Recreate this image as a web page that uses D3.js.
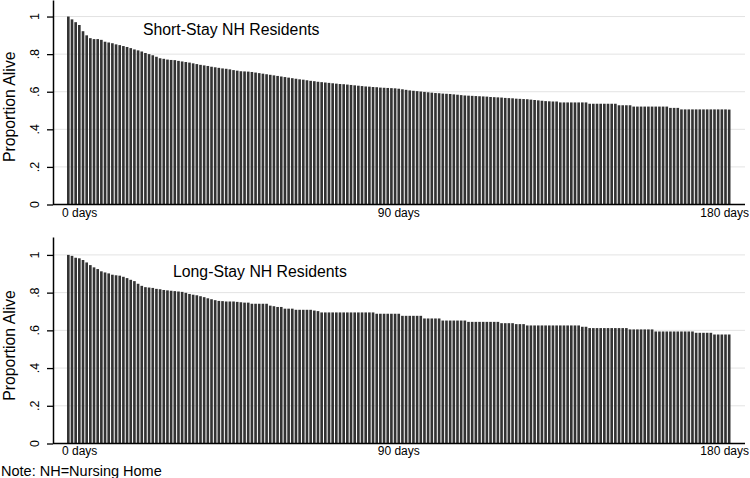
<!DOCTYPE html>
<html>
<head>
<meta charset="utf-8">
<script src="https://cdn.jsdelivr.net/npm/d3@7"></script>
<style>
  html, body { margin: 0; padding: 0; background: #fff; }
  text { font-family: "Liberation Sans", Arial, sans-serif; fill: #000; }
</style>
</head>
<body>
<svg id="chart" width="750" height="478"></svg>
<script>
// ---------- data ----------
const days = d3.range(0, 181);               // day 0 .. day 180
const xTickDays = [0, 90, 180];
const xTickLabels = ["0 days", "90 days", "180 days"];
const yTicks = [0, 0.2, 0.4, 0.6, 0.8, 1];
const yTickLabels = ["0", ".2", ".4", ".6", ".8", "1"];
const yTitle = "Proportion Alive";
const panelTitles = ["Short-Stay NH Residents", "Long-Stay NH Residents"];
const note = "Note: NH=Nursing Home";

const shortStay = [
  1.000,0.985,0.970,0.955,0.922,0.900,0.885,0.880,0.880,0.876,
  0.866,0.862,0.858,0.852,0.848,0.843,0.838,0.832,0.825,0.820,
  0.814,0.806,0.800,0.794,0.786,0.778,0.775,0.771,0.769,0.768,
  0.764,0.761,0.758,0.755,0.751,0.747,0.743,0.740,0.737,0.733,
  0.730,0.727,0.724,0.722,0.719,0.715,0.712,0.709,0.708,0.707,
  0.705,0.702,0.699,0.696,0.693,0.690,0.687,0.684,0.681,0.678,
  0.675,0.672,0.669,0.666,0.664,0.661,0.658,0.656,0.653,0.651,
  0.649,0.647,0.645,0.643,0.641,0.640,0.638,0.636,0.634,0.632,
  0.630,0.628,0.627,0.625,0.624,0.622,0.621,0.620,0.619,0.618,
  0.616,0.613,0.610,0.607,0.605,0.603,0.601,0.599,0.597,0.595,
  0.593,0.592,0.590,0.589,0.588,0.586,0.584,0.582,0.580,0.579,
  0.578,0.577,0.576,0.575,0.574,0.572,0.571,0.570,0.569,0.567,
  0.566,0.565,0.563,0.562,0.561,0.560,0.558,0.556,0.554,0.552,
  0.550,0.549,0.548,0.548,0.543,0.543,0.543,0.543,0.543,0.543,
  0.543,0.543,0.536,0.536,0.536,0.536,0.536,0.536,0.536,0.536,
  0.528,0.528,0.528,0.528,0.521,0.521,0.521,0.521,0.521,0.521,
  0.521,0.521,0.521,0.521,0.514,0.514,0.514,0.506,0.506,0.506,
  0.506,0.506,0.506,0.506,0.506,0.506,0.506,0.506,0.506,0.506,
  0.505
];

const longStay = [
  1.000,0.995,0.985,0.982,0.973,0.960,0.946,0.934,0.925,0.913,
  0.907,0.902,0.895,0.892,0.890,0.884,0.877,0.868,0.861,0.847,
  0.836,0.829,0.827,0.825,0.820,0.818,0.814,0.812,0.810,0.808,
  0.806,0.804,0.799,0.793,0.789,0.786,0.781,0.776,0.770,0.765,
  0.760,0.756,0.755,0.753,0.753,0.753,0.751,0.749,0.747,0.747,
  0.741,0.741,0.741,0.741,0.741,0.731,0.728,0.724,0.724,0.715,
  0.715,0.715,0.709,0.709,0.709,0.709,0.709,0.705,0.702,0.695,
  0.695,0.695,0.695,0.695,0.695,0.695,0.695,0.695,0.695,0.695,
  0.695,0.695,0.695,0.695,0.688,0.688,0.688,0.688,0.688,0.688,
  0.688,0.677,0.677,0.677,0.677,0.677,0.677,0.663,0.663,0.663,
  0.663,0.663,0.652,0.652,0.652,0.652,0.652,0.652,0.652,0.645,
  0.645,0.645,0.645,0.645,0.645,0.645,0.645,0.645,0.638,0.638,
  0.638,0.638,0.633,0.633,0.633,0.626,0.626,0.626,0.626,0.626,
  0.626,0.626,0.626,0.626,0.626,0.626,0.626,0.626,0.626,0.626,
  0.619,0.619,0.612,0.612,0.612,0.612,0.612,0.612,0.612,0.612,
  0.612,0.612,0.612,0.605,0.605,0.605,0.605,0.605,0.605,0.605,
  0.594,0.594,0.594,0.594,0.594,0.594,0.594,0.594,0.594,0.594,
  0.594,0.587,0.587,0.587,0.587,0.587,0.578,0.578,0.578,0.578,
  0.578
];

// ---------- layout ----------
const svg = d3.select("#chart");
const axisX = 53, plotRight = 745;

const x = d3.scaleBand().domain(days).range([67, 730.5]).paddingInner(0.28).paddingOuter(0);

const panels = [
  { values: shortStay, title: panelTitles[0], y: d3.scaleLinear().domain([0, 1.088]).range([204.5, 0]),
    titleX: 143, titleY: 35, labelDy: 12 },
  { values: longStay, title: panelTitles[1], y: d3.scaleLinear().domain([0, 1.095]).range([443.5, 237]),
    titleX: 173, titleY: 277, labelDy: 11 }
];

panels.forEach(p => {
  const g = svg.append("g");
  const y = p.y;

  // gridlines
  g.selectAll("line.grid").data(yTicks.filter(v => v > 0)).enter().append("line")
    .attr("x1", axisX).attr("x2", plotRight)
    .attr("y1", d => y(d)).attr("y2", d => y(d))
    .attr("stroke", "#e3e3e3").attr("stroke-width", 1);

  // bars
  g.selectAll("rect.bar").data(p.values).enter().append("rect")
    .attr("x", (d, i) => x(days[i]))
    .attr("width", x.bandwidth())
    .attr("y", d => y(d))
    .attr("height", d => y(0) - y(d))
    .attr("fill", "#333");

  // y axis
  const yAxis = d3.axisLeft(y).tickValues(yTicks).tickSize(6).tickSizeOuter(0).tickFormat("");
  const ya = g.append("g").attr("transform", `translate(${axisX},0)`).call(yAxis);
  ya.select(".domain").attr("stroke", "#000").attr("stroke-width", 1.5);
  ya.selectAll(".tick line").attr("stroke", "#000").attr("stroke-width", 1.3);

  // y tick labels (rotated)
  g.selectAll("text.ytl").data(yTicks).enter().append("text")
    .attr("transform", d => `translate(39,${y(d)}) rotate(-90)`)
    .attr("text-anchor", "middle")
    .attr("font-size", 12.5)
    .text((d, i) => yTickLabels[i]);

  // y title
  g.append("text")
    .attr("transform", `translate(15,${y(0.52)}) rotate(-90)`)
    .attr("text-anchor", "middle")
    .attr("font-size", 15.8)
    .text(yTitle);

  // x axis line
  g.append("line")
    .attr("x1", axisX).attr("x2", plotRight)
    .attr("y1", y(0)).attr("y2", y(0))
    .attr("stroke", "#000").attr("stroke-width", 1.5);

  // x tick labels: centred under their bar, kept inside the plot edges
  g.selectAll("text.xtl").data(xTickDays).enter().append("text")
    .attr("y", y(0) + p.labelDy)
    .attr("text-anchor", "start")
    .attr("font-size", 12)
    .text((d, i) => xTickLabels[i])
    .each(function(d) {
      const w = this.getComputedTextLength();
      let left = x(d) + x.bandwidth() / 2 - w / 2;
      left = Math.max(left, axisX + 9);
      left = Math.min(left, 749 - w);
      d3.select(this).attr("x", left);
    });

  // panel title
  g.append("text")
    .attr("x", p.titleX).attr("y", p.titleY)
    .attr("font-size", 15.8)
    .text(p.title);
});

svg.append("text")
  .attr("x", 1).attr("y", 475.5)
  .attr("font-size", 14.5)
  .text(note);
</script>
</body>
</html>
